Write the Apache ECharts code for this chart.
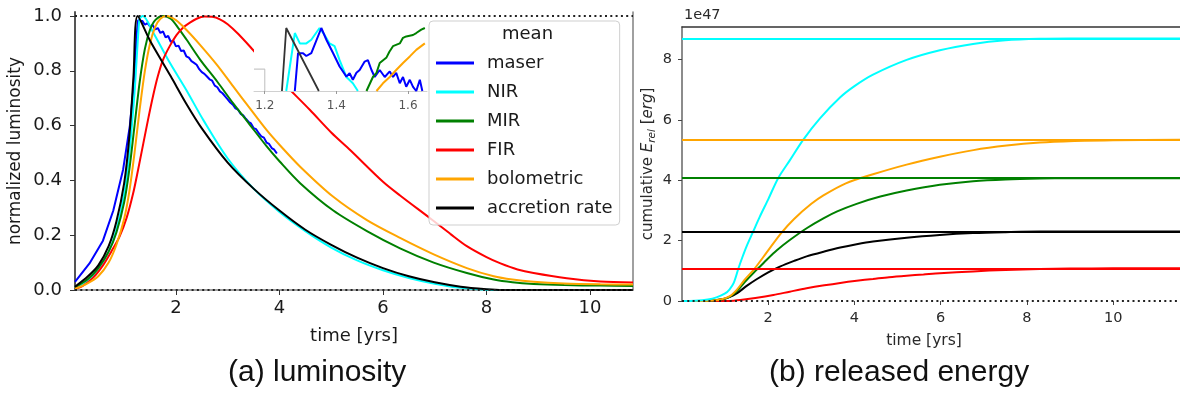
<!DOCTYPE html>
<html>
<head>
<meta charset="utf-8">
<script src="https://cdn.jsdelivr.net/npm/echarts@6/dist/echarts.min.js"></script>
<style>
  html, body { margin: 0; padding: 0; background: #fff; }
  #chart { width: 1180px; height: 396px; }
</style>
</head>
<body>
<div id="chart"></div>
<script>
// ---- (a) normalized luminosity, [time in yrs, value] ----
const lumMaser = [[0.05,0.03],[0.33,0.097],[0.59,0.18],[0.79,0.29],[0.98,0.44],[1.11,0.6],[1.2,0.78],[1.24,0.93],[1.27,0.985],
  [1.30,0.990],[1.35,0.982],[1.40,0.968],[1.45,0.974],[1.50,0.962],[1.55,0.967],[1.60,0.951],[1.65,0.956],[1.70,0.938],[1.75,0.944],
  [1.80,0.922],[1.85,0.927],[1.90,0.906],[1.95,0.910],[2.00,0.889],[2.05,0.892],[2.10,0.872],[2.15,0.874],[2.20,0.853],[2.25,0.848],
  [2.30,0.835],[2.35,0.829],[2.40,0.822],[2.45,0.806],[2.50,0.795],[2.55,0.789],[2.60,0.779],[2.65,0.769],[2.70,0.764],[2.75,0.746],
  [2.80,0.740],[2.85,0.725],[2.90,0.718],[2.95,0.707],[3.00,0.696],[3.05,0.684],[3.10,0.676],[3.15,0.663],[3.20,0.658],[3.25,0.643],
  [3.30,0.637],[3.35,0.625],[3.40,0.614],[3.45,0.608],[3.50,0.591],[3.55,0.587],[3.60,0.572],[3.65,0.561],[3.70,0.556],[3.75,0.538],
  [3.80,0.533],[3.85,0.518],[3.90,0.512],[3.95,0.498]];
const lumNIR = [[0.05,0.006],[0.3,0.035],[0.5,0.075],[0.7,0.14],[0.85,0.22],[1.0,0.35],[1.1,0.5],[1.2,0.72],[1.27,0.93],[1.3,0.99],
  [1.36,1.0],[1.56,0.94],[1.88,0.83],[2.2,0.73],[2.53,0.62],[3.0,0.48],[3.5,0.37],[4.0,0.285],[4.5,0.215],[5.0,0.155],[5.5,0.108],
  [6.0,0.072],[6.5,0.044],[7.0,0.023],[7.5,0.008],[8.0,0.001],[8.3,0],[10.83,0]];
const lumMIR = [[0.05,0.01],[0.3,0.04],[0.5,0.08],[0.7,0.14],[0.85,0.21],[1.0,0.32],[1.1,0.44],[1.2,0.6],[1.3,0.76],[1.4,0.88],
  [1.5,0.95],[1.6,0.985],[1.75,1.0],[1.9,0.99],[2.05,0.955],[2.2,0.915],[2.47,0.84],[2.8,0.76],[3.11,0.68],[3.4,0.61],[3.75,0.525],
  [4.0,0.47],[4.4,0.39],[5.04,0.29],[5.69,0.215],[6.33,0.152],[6.98,0.1],[7.62,0.062],[8.14,0.038],[8.5,0.028],[8.91,0.022],
  [9.5,0.018],[10.2,0.016],[10.83,0.015]];
const lumFIR = [[0.05,0.004],[0.2,0.015],[0.4,0.045],[0.59,0.09],[0.75,0.14],[0.91,0.195],[1.05,0.265],[1.17,0.35],[1.27,0.44],
  [1.37,0.535],[1.47,0.63],[1.56,0.71],[1.65,0.78],[1.75,0.84],[1.88,0.89],[2.01,0.93],[2.14,0.958],[2.27,0.976],[2.4,0.99],
  [2.55,0.998],[2.7,0.997],[2.85,0.988],[3.0,0.97],[3.2,0.935],[3.49,0.876],[4.0,0.77],[4.59,0.657],[5.0,0.575],[5.37,0.51],
  [6.0,0.395],[6.33,0.345],[6.91,0.262],[7.3,0.205],[7.62,0.16],[8.0,0.12],[8.27,0.097],[8.6,0.075],[8.91,0.062],[9.55,0.043],
  [10.2,0.031],[10.83,0.027]];
const lumBol = [[0.05,0.004],[0.3,0.025],[0.5,0.05],[0.7,0.1],[0.85,0.165],[1.0,0.26],[1.1,0.36],[1.2,0.5],[1.3,0.66],[1.4,0.8],
  [1.5,0.9],[1.6,0.96],[1.7,0.99],[1.82,1.0],[2.0,0.985],[2.2,0.95],[2.47,0.894],[2.8,0.82],[3.11,0.742],[3.4,0.67],[3.75,0.584],
  [4.0,0.53],[4.4,0.45],[5.04,0.34],[5.69,0.255],[6.33,0.19],[6.98,0.13],[7.62,0.08],[8.14,0.05],[8.5,0.038],[8.91,0.03],
  [9.5,0.024],[10.2,0.021],[10.83,0.02]];
const lumAcc = [[0.05,0.012],[0.3,0.05],[0.5,0.09],[0.7,0.16],[0.85,0.25],[1.0,0.39],[1.1,0.56],[1.18,0.78],[1.26,1.0],[1.5,0.91],
  [1.9,0.78],[2.2,0.68],[2.5,0.59],[3.0,0.465],[3.5,0.37],[4.0,0.29],[4.5,0.22],[5.0,0.165],[5.5,0.118],[6.0,0.08],[6.5,0.05],
  [7.0,0.028],[7.5,0.012],[8.0,0.003],[8.3,0],[10.83,0]];
const lumRefLevels = [0, 1];

// ---- zoomed peak (inset) ----
const zoomMaser = [[1.284,0.955],[1.293,0.982],[1.307,0.982],[1.316,0.980],[1.33,0.982],[1.358,1.0],[1.372,0.9916],[1.391,0.982],
  [1.409,0.9725],[1.428,0.9653],[1.437,0.9677],[1.446,0.963],[1.456,0.968],[1.465,0.970],[1.479,0.976],[1.488,0.977],[1.498,0.970],
  [1.507,0.965],[1.521,0.970],[1.535,0.965],[1.549,0.969],[1.558,0.965],[1.567,0.968],[1.577,0.9605],[1.586,0.965],[1.595,0.958],
  [1.605,0.963],[1.614,0.958],[1.623,0.955],[1.633,0.963],[1.64,0.955]];
const zoomNIR = [[1.26,0.955],[1.284,0.9964],[1.298,0.989],[1.316,0.989],[1.33,0.9916],[1.353,1.0],[1.367,0.995],[1.381,0.989],
  [1.395,0.987],[1.409,0.977],[1.428,0.965],[1.446,0.9605],[1.46,0.955]];
const zoomMIR = [[1.484,0.955],[1.502,0.965],[1.512,0.968],[1.521,0.975],[1.54,0.979],[1.548,0.983],[1.558,0.987],[1.577,0.989],
  [1.586,0.993],[1.595,0.994],[1.614,0.995],[1.623,0.9964],[1.637,0.9988],[1.647,1.0]];
const zoomBol = [[1.512,0.955],[1.53,0.9605],[1.549,0.965],[1.567,0.970],[1.586,0.975],[1.605,0.9797],[1.623,0.9844],[1.647,0.989]];
const zoomAcc = [[1.248,0.955],[1.26,1.0],[1.351,0.955]];
const zoomFrame = [[1.17,0.9706],[1.2,0.9706],[1.2,0.955]];

// ---- (b) cumulative released energy, [time in yrs, E / 1e47 erg] ----
const cumNIR = [[0,0],[0.3,0.01],[0.6,0.05],[0.8,0.12],[1.0,0.25],[1.1,0.38],[1.2,0.6],[1.31,1.085],[1.4,1.45],[1.5,1.82],
  [1.65,2.3],[1.8,2.78],[2.0,3.37],[2.23,4.07],[2.5,4.66],[2.81,5.34],[3.2,6.05],[3.67,6.75],[4.0,7.12],[4.43,7.5],[5.21,7.99],
  [5.98,8.31],[6.75,8.52],[7.5,8.64],[8.3,8.69],[9.0,8.70],[11.6,8.70]];
const cumBol = [[0,0],[0.6,0.01],[0.9,0.05],[1.1,0.15],[1.27,0.37],[1.45,0.7],[1.69,1.085],[1.96,1.6],[2.3,2.25],[2.6,2.72],
  [3.0,3.22],[3.28,3.5],[3.8,3.9],[4.43,4.2],[5.21,4.52],[5.98,4.78],[6.76,5.0],[7.53,5.15],[8.3,5.25],[9.1,5.3],[10,5.33],[11.6,5.34]];
const cumMIR = [[0,0],[0.6,0.01],[0.9,0.05],[1.1,0.14],[1.27,0.32],[1.45,0.62],[1.65,0.92],[1.85,1.2],[1.96,1.36],[2.2,1.68],
  [2.5,2.02],[2.9,2.42],[3.28,2.74],[3.6,2.97],[4.05,3.22],[4.6,3.46],[5.21,3.66],[5.98,3.85],[6.75,3.97],[7.5,4.03],[8.3,4.06],
  [9.0,4.07],[11.6,4.07]];
const cumAcc = [[0,0],[0.6,0.01],[0.9,0.05],[1.1,0.13],[1.27,0.25],[1.5,0.5],[1.73,0.72],[2.0,0.95],[2.27,1.14],[2.6,1.33],
  [2.89,1.48],[3.3,1.64],[3.67,1.77],[4.05,1.88],[4.43,1.97],[5.21,2.1],[5.98,2.19],[6.75,2.25],[7.5,2.28],[8.3,2.30],[11.6,2.30]];
const cumFIR = [[0,0],[1.0,0],[1.2,0.01],[1.35,0.03],[1.7,0.1],[2.12,0.2],[2.5,0.31],[2.89,0.42],[3.3,0.52],[3.67,0.6],[4.05,0.67],
  [4.43,0.73],[4.8,0.79],[5.21,0.84],[5.6,0.88],[5.98,0.92],[6.75,0.98],[7.5,1.03],[8.3,1.06],[9.0,1.075],[10,1.083],[11.6,1.085]];

// ---- ticks ----
const lumTimeTicks = [2, 4, 6, 8, 10];
const lumTicks = [0, 0.2, 0.4, 0.6, 0.8, 1.0];
const zoomTimeTicks = [1.2, 1.4, 1.6];
const cumTimeTicks = [2, 4, 6, 8, 10];
const cumTicks = [0, 2, 4, 6, 8];

const seriesNames = ['maser', 'NIR', 'MIR', 'FIR', 'bolometric', 'accretion rate'];
const colors = { maser: '#0000ff', NIR: '#00ffff', MIR: '#008000', FIR: '#ff0000', bolometric: '#ffa500', 'accretion rate': '#000000' };

const FONT = 'DejaVu Sans';
const TXT = '#1a1a1a';
const dotted = { type: [2, 3.3], width: 2, color: '#222' };

function lineSeries(name, data, xi, yi, extra) {
  return Object.assign({
    type: 'line', name: name, data: data, xAxisIndex: xi, yAxisIndex: yi,
    color: colors[name], showSymbol: false, symbol: 'none', smooth: 0.3,
    lineStyle: { width: 2, color: colors[name] }, clip: true, silent: true
  }, extra || {});
}

const last = arr => arr[arr.length - 1][1];

function levelLine(name, arr) {
  return {
    silent: true, symbol: 'none', label: { show: false },
    lineStyle: { color: colors[name], width: 2, type: 'solid' },
    data: [{ yAxis: last(arr) }]
  };
}

const chart = echarts.init(document.getElementById('chart'), null, { renderer: 'canvas' });

const option = {
  animation: false,
  backgroundColor: '#fff',
  textStyle: { fontFamily: FONT },
  grid: [
    { left: 75, top: 12, width: 558, height: 278 },
    { left: 682, top: 27, width: 498, height: 274 },
    { left: 254, top: 28, width: 173, height: 63, show: true, backgroundColor: '#fff', borderWidth: 0, z: 5 }
  ],
  xAxis: [
    { gridIndex: 0, type: 'value', min: 0.05, max: 10.83, position: 'bottom',
      axisLine: { show: false }, splitLine: { show: false },
      axisTick: { show: true, customValues: lumTimeTicks, length: 5, lineStyle: { color: '#333' } },
      axisLabel: { customValues: lumTimeTicks, fontSize: 18, color: TXT, margin: 9, fontFamily: FONT },
      name: 'time [yrs]', nameLocation: 'middle', nameGap: 37,
      nameTextStyle: { fontSize: 18, color: TXT, fontFamily: FONT } },
    { gridIndex: 0, type: 'value', min: 0.05, max: 10.83, position: 'top',
      axisLine: { show: true, lineStyle: { color: '#808080', width: 1.5 } },
      axisTick: { show: false }, axisLabel: { show: false }, splitLine: { show: false } },
    { gridIndex: 1, type: 'value', min: 0, max: 11.55, position: 'bottom',
      axisLine: { show: false }, splitLine: { show: false },
      axisTick: { show: true, customValues: cumTimeTicks, length: 4, lineStyle: { color: '#444' } },
      axisLabel: { customValues: cumTimeTicks, fontSize: 14.5, color: '#2a2a2a', margin: 10, fontFamily: FONT },
      name: 'time [yrs]', nameLocation: 'middle', nameGap: 32,
      nameTextStyle: { fontSize: 15.5, color: '#2a2a2a', fontFamily: FONT, padding: [0, 14, 0, 0] } },
    { gridIndex: 1, type: 'value', min: 0, max: 11.55, position: 'top',
      axisLine: { show: true, lineStyle: { color: '#333', width: 1.5 } },
      axisTick: { show: false }, axisLabel: { show: false }, splitLine: { show: false } },
    { gridIndex: 2, type: 'value', min: 1.17, max: 1.653, position: 'bottom', z: 6,
      axisLine: { show: true, lineStyle: { color: '#d0d0d0', width: 1 } }, splitLine: { show: false },
      axisTick: { show: true, customValues: zoomTimeTicks, length: 3, lineStyle: { color: '#999' } },
      axisLabel: { customValues: zoomTimeTicks, fontSize: 12, color: '#555', margin: 9, fontFamily: FONT } }
  ],
  yAxis: [
    { gridIndex: 0, type: 'value', min: 0, max: 1.0146,
      axisLine: { show: true, lineStyle: { color: '#555', width: 2 } }, splitLine: { show: false },
      axisTick: { show: true, customValues: lumTicks, length: 5, lineStyle: { color: '#333' } },
      axisLabel: { customValues: lumTicks, fontSize: 18, color: TXT, margin: 13, fontFamily: FONT,
        formatter: v => v.toFixed(1) },
      name: 'normalized luminosity', nameLocation: 'middle', nameGap: 51,
      nameTextStyle: { fontSize: 17, color: TXT, fontFamily: FONT } },
    { gridIndex: 0, type: 'value', min: 0, max: 1.0146, position: 'right',
      axisLine: { show: true, lineStyle: { color: '#808080', width: 1.5 } },
      axisTick: { show: false }, axisLabel: { show: false }, splitLine: { show: false } },
    { gridIndex: 1, type: 'value', min: 0, max: 9.08,
      axisLine: { show: true, lineStyle: { color: '#666', width: 1.5 } }, splitLine: { show: false },
      axisTick: { show: true, customValues: cumTicks, length: 4, lineStyle: { color: '#444' } },
      axisLabel: { customValues: cumTicks, fontSize: 14.5, color: '#2a2a2a', margin: 10, fontFamily: FONT },
      name: '{n|cumulative }{i|E}{s|rel}{n| [}{i|erg}{n|]}', nameLocation: 'middle', nameGap: 24,
      nameTextStyle: {
        fontFamily: FONT, color: '#2a2a2a',
        rich: {
          n: { fontSize: 15, fontFamily: FONT, color: '#2a2a2a' },
          i: { fontSize: 15, fontStyle: 'italic', fontFamily: FONT, color: '#2a2a2a' },
          s: { fontSize: 10.5, fontStyle: 'italic', fontFamily: FONT, color: '#2a2a2a', padding: [9, 0, 0, 0] }
        }
      } },
    { gridIndex: 2, type: 'value', min: 0.955, max: 1.0, show: false }
  ],
  legend: {
    data: seriesNames, orient: 'vertical', left: 429, top: 21,
    padding: [33, 7, 8, 7], itemGap: 11, itemWidth: 38, itemHeight: 3, icon: 'rect',
    backgroundColor: 'rgba(255,255,255,0.8)', borderColor: '#cfcfcf', borderWidth: 1, borderRadius: 4,
    textStyle: { fontSize: 18, color: TXT, fontFamily: FONT, lineHeight: 16, padding: [0, 0, 0, 8] },
    selectedMode: false, z: 8
  },
  graphic: [
    { type: 'text', z: 20, left: 526 - 24, top: 25,
      style: { text: 'mean', fontSize: 18, fontFamily: FONT, fill: TXT } },
    { type: 'text', z: 20, left: 684, top: 8,
      style: { text: '1e47', fontSize: 14.5, fontFamily: FONT, fill: '#2a2a2a' } },
    { type: 'text', z: 20, left: 228, top: 358,
      style: { text: '(a) luminosity', fontSize: 30, fontFamily: 'Liberation Sans', fill: '#111' } },
    { type: 'text', z: 20, left: 769, top: 358,
      style: { text: '(b) released energy', fontSize: 30, fontFamily: 'Liberation Sans', fill: '#111' } }
  ],
  series: [
    lineSeries('maser', lumMaser, 0, 0, { smooth: false }),
    lineSeries('NIR', lumNIR, 0, 0),
    lineSeries('MIR', lumMIR, 0, 0),
    lineSeries('FIR', lumFIR, 0, 0),
    lineSeries('bolometric', lumBol, 0, 0),
    lineSeries('accretion rate', lumAcc, 0, 0, {
      markLine: { silent: true, symbol: 'none', label: { show: false }, lineStyle: dotted,
        data: lumRefLevels.map(v => ({ yAxis: v })) }
    }),

    lineSeries('FIR', cumFIR, 2, 2, { markLine: levelLine('FIR', cumFIR) }),
    lineSeries('accretion rate', cumAcc, 2, 2, { markLine: levelLine('accretion rate', cumAcc) }),
    lineSeries('MIR', cumMIR, 2, 2, { markLine: levelLine('MIR', cumMIR) }),
    lineSeries('bolometric', cumBol, 2, 2, { markLine: levelLine('bolometric', cumBol) }),
    lineSeries('NIR', cumNIR, 2, 2, {
      markLine: {
        silent: true, symbol: 'none', label: { show: false },
        data: [
          { yAxis: last(cumNIR), lineStyle: { color: colors.NIR, width: 2, type: 'solid' } },
          { yAxis: 0, lineStyle: dotted }
        ]
      }
    }),

    { type: 'line', data: zoomFrame, xAxisIndex: 4, yAxisIndex: 3, z: 6, symbol: 'none', silent: true,
      lineStyle: { color: '#c8c8c8', width: 1.2 } },
    lineSeries('NIR', zoomNIR, 4, 3, { smooth: false, z: 6 }),
    lineSeries('maser', zoomMaser, 4, 3, { smooth: false, z: 6 }),
    lineSeries('MIR', zoomMIR, 4, 3, { smooth: false, z: 6 }),
    lineSeries('bolometric', zoomBol, 4, 3, { smooth: false, z: 6 }),
    lineSeries('accretion rate', zoomAcc, 4, 3, { smooth: false, z: 6, lineStyle: { width: 1.8, color: '#333' } })
  ]
};

chart.setOption(option);
</script>
</body>
</html>
